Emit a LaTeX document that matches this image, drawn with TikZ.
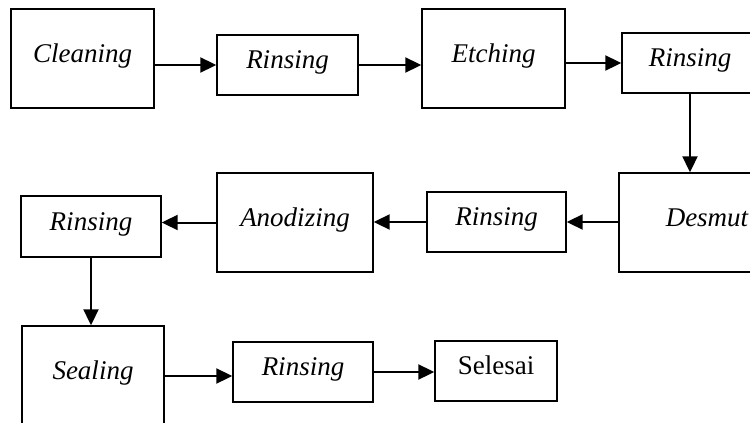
\documentclass[tikz,border=0pt]{standalone}
\usepackage{fontspec}
\setmainfont{Liberation Serif}
\usetikzlibrary{arrows.meta}
\begin{document}
\begin{tikzpicture}[x=1pt,y=-1pt,
  box/.style={draw, line width=1.4pt, inner sep=0pt, align=center,
    font=\fontsize{27}{31}\selectfont\itshape,
    text height=0.97em, text depth=0.2em},
  plainbox/.style={box, font=\fontsize{27}{31}\selectfont},
  arr/.style={line width=2pt, -{Triangle[length=16pt,width=15pt]}}]
  \useasboundingbox (0,0) rectangle (750,423);
  \clip (0,0) rectangle (750,423);
  % first row
  \node[box, minimum width=143pt, minimum height=99pt] (cl) at (82.5,58.5) {Cleaning};
  \node[box, minimum width=141pt, minimum height=60pt] (r1) at (287.5,65) {Rinsing};
  \node[box, minimum width=143pt, minimum height=99pt] (et) at (493.5,58.5) {Etching};
  \node[box, minimum width=136pt, minimum height=60pt] (r2) at (690,63) {Rinsing};
  % second row
  \node[box, minimum width=176pt, minimum height=99pt] (de) at (707,222.5) {Desmut};
  \node[box, minimum width=139pt, minimum height=60pt] (r3) at (496.5,222) {Rinsing};
  \node[box, minimum width=156pt, minimum height=99pt] (an) at (295,222.5) {Anodizing};
  \node[box, minimum width=140pt, minimum height=61pt] (r4) at (91,226.5) {Rinsing};
  % third row
  \node[box, minimum width=142pt, minimum height=100pt] (se) at (93,376) {Sealing};
  \node[box, minimum width=140pt, minimum height=60pt] (r5) at (303,372) {Rinsing};
  \node[plainbox, minimum width=122pt, minimum height=60pt] (sl) at (496,371) {Selesai};
  % connectors
  \draw[arr] (r1.west -| cl.east) -- (r1.west);
  \draw[arr] (r1.east) -- (r1.east -| et.west);
  \draw[arr] (r2.west -| et.east) -- (r2.west);
  \draw[arr] (r2.south) -- (r2.south |- de.north);
  \draw[arr] (r3.east -| de.west) -- (r3.east);
  \draw[arr] (r3.west) -- (r3.west -| an.east);
  \draw[arr] (an.west) -- (an.west -| r4.east);
  \draw[arr] (r4.south) -- (r4.south |- se.north);
  \draw[arr] (se.east) -- (se.east -| r5.west);
  \draw[arr] (r5.east) -- (r5.east -| sl.west);
\end{tikzpicture}
\end{document}
